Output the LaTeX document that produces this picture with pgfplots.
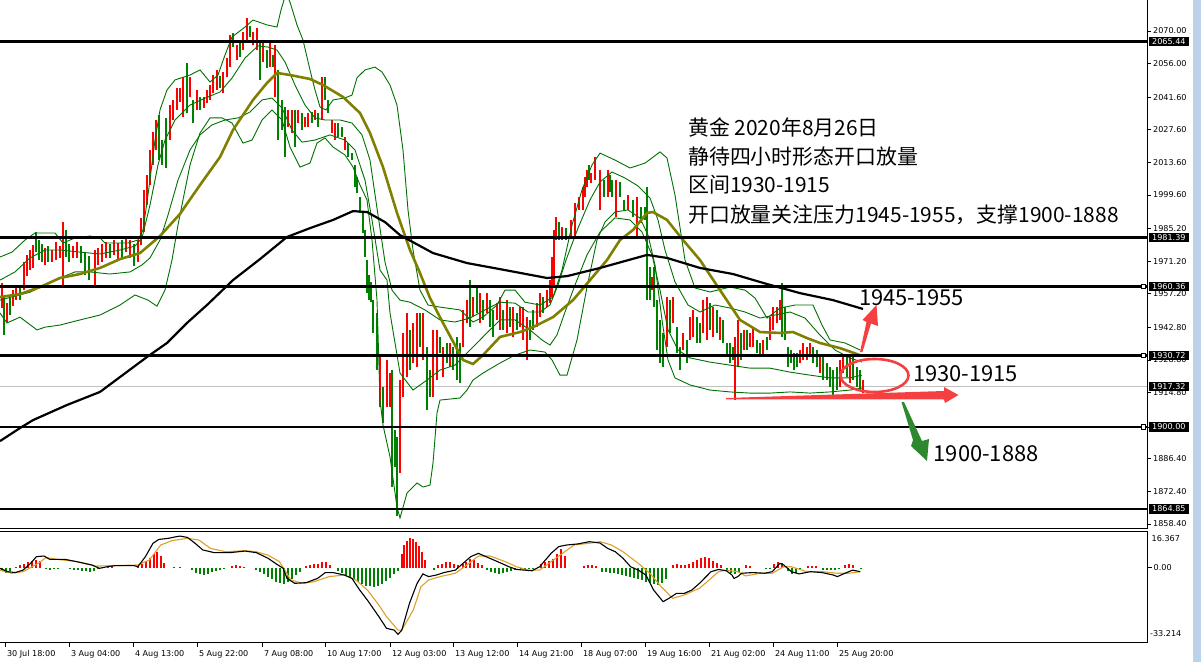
\documentclass[border=0pt]{standalone}
\usepackage{fontspec}
\setmainfont{DejaVu Sans}
\newfontfamily\cjk{Noto Sans CJK SC}
\usepackage{pgfplots}
\usepackage{pgfplotstable}
\pgfplotsset{compat=1.18}
\definecolor{barR}{RGB}{255,0,0}
\definecolor{barG}{RGB}{0,128,0}
\definecolor{bandG}{RGB}{0,112,0}
\definecolor{maO}{RGB}{128,128,0}
\definecolor{sigO}{RGB}{222,160,40}
\definecolor{annR}{RGB}{244,64,64}
\definecolor{annG}{RGB}{46,136,46}
\definecolor{lineGray}{RGB}{192,192,192}
\definecolor{stripB}{RGB}{188,210,234}
\newcommand{\tickfont}{\fontsize{8.1}{9}\selectfont}

% price bars: x (px), low, high
\pgfplotstableread[row sep=\\]{
x lo hi\\
2 1951.1 1961.8\\ 7 1945.1 1953.2\\ 13 1951.9 1958.8\\ 16 1954.5 1959.7\\
24 1958.8 1970.8\\ 27 1964.8 1973.9\\ 30 1967.4 1976.0\\ 33 1968.3 1978.2\\
45 1969.6 1976.9\\ 52 1970.8 1976.0\\ 56 1971.7 1979.4\\ 60 1972.6 1977.7\\
63 1961.0 1988.0\\ 73 1972.6 1977.7\\ 77 1972.6 1979.4\\ 95 1961.0 1976.0\\
98 1969.6 1976.9\\ 102 1970.8 1978.6\\ 106 1972.6 1979.4\\ 114 1973.9 1980.3\\
118 1971.7 1979.0\\ 126 1975.1 1981.2\\ 130 1972.6 1980.3\\ 138 1970.8 1980.3\\
141 1978.2 1989.8\\ 144 1983.7 2001.8\\ 147 1995.3 2008.2\\ 150 2003.9 2018.9\\
153 2012.5 2026.6\\ 156 2018.9 2031.8\\ 170 2023.2 2038.2\\ 173 2031.8 2040.4\\
177 2036.1 2045.5\\ 180 2039.5 2045.5\\ 183 2033.1 2050.3\\ 190 2041.7 2050.3\\
197 2036.1 2044.7\\ 204 2037.0 2041.7\\ 207 2039.1 2044.7\\ 210 2040.4 2046.8\\
213 2043.4 2051.1\\ 217 2044.7 2053.3\\ 223 2043.4 2052.4\\ 227 2050.3 2058.4\\
230 2054.5 2068.3\\ 237 2057.5 2064.0\\ 243 2061.8 2069.6\\ 247 2065.2 2075.6\\
253 2064.0 2069.6\\ 257 2061.8 2071.3\\ 263 2056.7 2064.8\\ 270 2054.5 2064.8\\
275 2041.7 2064.0\\ 288 2028.8 2036.1\\ 292 2026.2 2036.1\\ 298 2030.5 2036.1\\
305 2028.8 2033.1\\ 308 2028.8 2034.8\\ 315 2031.8 2036.1\\ 322 2031.8 2050.3\\
332 2026.2 2031.8\\ 335 2023.2 2030.5\\ 345 2018.9 2024.5\\ 380 1908.6 1930.1\\
387 1908.6 1928.8\\ 390 1908.6 1923.2\\ 400 1880.3 1920.2\\ 403 1912.9 1940.4\\
407 1921.5 1949.0\\ 413 1927.5 1944.7\\ 417 1925.8 1949.0\\ 423 1928.8 1949.0\\
433 1912.9 1941.7\\ 437 1920.2 1941.7\\ 443 1921.5 1934.4\\ 450 1925.8 1936.1\\
463 1934.4 1950.3\\ 467 1944.7 1954.5\\ 473 1947.2 1955.8\\ 480 1944.7 1957.5\\
487 1949.0 1957.5\\ 497 1946.0 1953.2\\ 500 1941.7 1955.8\\ 507 1940.4 1954.5\\
513 1938.7 1951.5\\ 520 1942.9 1951.5\\ 523 1937.4 1951.5\\ 527 1928.8 1947.2\\
537 1942.9 1953.2\\ 540 1947.2 1957.5\\ 547 1951.5 1958.8\\ 550 1953.2 1963.1\\
552 1955.8 1973.0\\ 554 1960.1 1984.6\\ 556 1980.3 1990.2\\ 562 1980.3 1985.9\\
571 1981.6 1988.9\\ 575 1981.6 1996.2\\ 579 1993.2 1998.8\\ 583 1993.2 2003.0\\
585 1998.8 2007.3\\ 587 2003.0 2010.3\\ 591 2004.8 2009.0\\ 595 2006.0 2015.9\\
600 1993.2 2010.3\\ 608 1998.8 2010.3\\ 616 1990.2 2006.0\\ 628 1993.2 1999.6\\
637 1981.6 1998.8\\ 652 1958.8 1964.4\\ 667 1934.4 1955.8\\ 673 1944.7 1955.8\\
683 1933.1 1940.4\\ 690 1937.4 1947.2\\ 693 1938.7 1950.3\\ 703 1940.4 1954.5\\
707 1937.4 1955.8\\ 713 1938.7 1951.5\\ 720 1937.4 1947.2\\ 735 1911.6 1938.7\\
738 1925.8 1946.0\\ 744 1933.1 1941.7\\ 750 1934.4 1940.4\\ 753 1934.4 1942.9\\
763 1930.1 1937.4\\ 770 1937.4 1947.2\\ 773 1941.7 1951.5\\ 777 1944.7 1951.5\\
780 1946.0 1954.5\\ 800 1927.5 1933.1\\ 803 1928.8 1936.1\\ 807 1928.8 1934.4\\
810 1930.1 1936.1\\ 820 1923.2 1930.1\\ 840 1917.2 1928.8\\ 843 1923.2 1930.1\\
850 1918.9 1930.1\\ 863 1914.6 1920.2\\
}\redbars

\pgfplotstableread[row sep=\\]{
x lo hi\\
4 1939.6 1956.2\\ 10 1948.1 1955.4\\ 20 1954.5 1961.0\\ 36 1975.1 1983.7\\
39 1971.7 1980.3\\ 42 1970.8 1978.6\\ 48 1970.8 1977.7\\ 66 1973.0 1984.6\\
69 1970.8 1978.6\\ 81 1970.4 1977.7\\ 85 1965.3 1974.7\\ 89 1963.1 1973.4\\
110 1972.6 1978.6\\ 122 1972.6 1980.3\\ 134 1969.1 1978.6\\ 159 2014.6 2033.9\\
162 2012.5 2023.2\\ 166 2011.2 2032.7\\ 187 2034.8 2056.2\\ 193 2030.5 2040.4\\
200 2036.1 2041.7\\ 220 2045.5 2050.7\\ 233 2063.1 2069.1\\ 240 2058.8 2065.2\\
250 2067.4 2072.1\\ 260 2049.0 2064.8\\ 267 2054.1 2061.8\\ 273 2054.5 2059.7\\
278 2023.2 2053.3\\ 282 2027.5 2040.4\\ 285 2015.9 2037.4\\ 295 2020.2 2036.1\\
302 2027.5 2034.8\\ 312 2030.5 2035.2\\ 318 2028.8 2034.8\\ 325 2040.4 2050.3\\
328 2034.8 2040.4\\ 338 2024.5 2030.5\\ 342 2024.5 2028.8\\ 348 2015.9 2021.9\\
352 2014.6 2017.6\\ 355 2003.0 2012.5\\ 357 2000.5 2007.3\\ 360 1991.9 1998.8\\
363 1983.3 1991.9\\ 365 1973.0 1984.6\\ 367 1957.5 1971.7\\ 369 1954.5 1965.3\\
371 1953.6 1962.3\\ 373 1940.4 1954.5\\ 377 1924.5 1949.0\\ 383 1901.7 1917.2\\
392 1874.3 1924.5\\ 395 1882.9 1898.7\\ 397 1861.8 1895.7\\ 410 1924.5 1941.7\\
420 1934.4 1949.0\\ 427 1907.3 1934.4\\ 430 1912.9 1924.5\\ 440 1931.8 1938.7\\
447 1927.5 1936.1\\ 453 1924.5 1934.4\\ 457 1920.2 1938.7\\ 460 1918.9 1936.1\\
470 1942.9 1963.1\\ 477 1949.0 1960.1\\ 483 1946.0 1954.5\\ 490 1942.9 1954.5\\
493 1938.7 1950.3\\ 503 1941.7 1950.3\\ 510 1942.9 1951.5\\ 517 1941.7 1949.0\\
530 1937.4 1946.0\\ 533 1941.7 1950.3\\ 543 1949.0 1955.8\\ 559 1980.3 1988.0\\
566 1980.3 1985.4\\ 589 2006.0 2012.5\\ 604 1998.8 2006.0\\ 610 2000.9 2008.2\\
612 1998.8 2006.0\\ 620 1998.8 2005.2\\ 624 1993.2 1997.5\\ 633 1990.2 1997.5\\
641 1987.6 1994.5\\ 645 1988.9 1994.5\\ 647 1954.5 2003.0\\ 650 1954.5 1968.7\\
654 1951.5 1968.7\\ 657 1933.1 1954.5\\ 660 1927.5 1946.0\\ 663 1925.8 1940.4\\
670 1940.4 1954.5\\ 677 1931.8 1942.9\\ 680 1924.5 1934.4\\ 687 1927.5 1937.4\\
697 1936.1 1947.2\\ 700 1936.1 1944.7\\ 710 1941.7 1953.2\\ 717 1940.4 1950.3\\
723 1936.1 1946.0\\ 727 1930.1 1936.1\\ 730 1927.5 1936.1\\ 733 1928.8 1934.4\\
741 1928.8 1940.4\\ 747 1933.1 1941.7\\ 757 1931.8 1937.4\\ 760 1930.1 1936.1\\
767 1933.1 1938.7\\ 782 1938.7 1961.8\\ 785 1937.4 1951.5\\ 788 1925.8 1934.4\\
791 1927.5 1933.1\\ 794 1924.5 1931.8\\ 797 1925.8 1931.8\\ 813 1927.5 1934.4\\
817 1925.8 1933.1\\ 823 1920.2 1930.1\\ 827 1920.2 1927.5\\ 830 1917.2 1925.8\\
833 1913.8 1924.5\\ 837 1915.9 1925.8\\ 847 1921.5 1930.1\\ 853 1920.2 1930.1\\
857 1917.2 1925.8\\ 860 1915.9 1924.5\\
}\greenbars

\pgfplotsset{mtpanel/.style={scale only axis, width=1147bp, xmin=0, xmax=1147,
  axis line style={draw=none}, tick align=outside, tick style={black, line width=0.8bp},
  ticklabel style={font=\tickfont}, yticklabel style={anchor=west, inner xsep=2bp},
  ytick pos=right, yticklabel pos=right}}

\begin{document}
\begin{tikzpicture}
\useasboundingbox (0,0) rectangle (1201bp,-662bp);
\fill[stripB] (1193bp,0) rectangle (1201bp,-662bp);

\begin{axis}[mtpanel, at={(0,0)}, anchor=north west, height=528bp,
  ymin=1856.7, ymax=2083.3, xtick=\empty, major tick length=4bp,
  ytick={2070.00,2056.00,2041.60,2027.60,2013.60,1999.60,1985.20,1971.20,1957.20,1942.80,1928.80,1914.80,1900.00,1886.40,1872.40,1858.40},
  yticklabels={2070.00,2056.00,2041.60,2027.60,2013.60,1999.60,1985.20,1971.20,1957.20,1942.80,1928.80,1914.80,1900.00,1886.40,1872.40,1858.40}]
  \addplot[lineGray, line width=0.8bp] coordinates {(0,1917.32) (1147,1917.32)};
  \addplot[draw=none, mark=none, error bars/.cd, y dir=plus, y explicit, error mark=none,
    error bar style={draw=barR, line width=1.7bp}]
    table[x=x, y=lo, y error expr=\thisrow{hi}-\thisrow{lo}] {\redbars};
  \addplot[draw=none, mark=none, error bars/.cd, y dir=plus, y explicit, error mark=none,
    error bar style={draw=barG, line width=1.7bp}]
    table[x=x, y=lo, y error expr=\thisrow{hi}-\thisrow{lo}] {\greenbars};
  % bollinger bands
  \addplot[bandG, line width=0.9bp] coordinates {(0,1973.0) (12,1975.1) (25,1980.3) (35,1983.3) (55,1983.3) (63,1979.0) (75,1981.2) (90,1982.0) (100,1981.2) (105,1979.0) (128,1979.0) (138,1980.3) (143,1984.6) (148,1999.6) (155,2023.2) (160,2036.1) (167,2044.7) (175,2049.0) (190,2051.1) (200,2053.3) (210,2048.1) (218,2051.1) (225,2059.7) (232,2067.4) (245,2071.7) (253,2074.7) (267,2072.6) (277,2071.7) (281,2079.0) (284,2083.3) (287,2085.4) (290,2082.4) (297,2072.6) (303,2066.1) (310,2053.3) (315,2044.7) (320,2037.4) (326,2036.1) (333,2040.4) (345,2041.3) (352,2042.5) (357,2049.9) (365,2053.3) (375,2054.5) (382,2052.4) (390,2046.8) (397,2038.2) (403,2018.9) (408,1993.2) (413,1976.0) (420,1958.8) (428,1952.4) (440,1951.5) (460,1950.3) (473,1945.1) (483,1947.2) (497,1952.4) (505,1958.8) (515,1958.8) (525,1953.6) (540,1952.4) (553,1955.8) (562,1967.4) (572,1986.7) (582,2001.8) (592,2012.5) (600,2017.6) (615,2014.6) (630,2011.2) (645,2013.3) (660,2018.1) (667,2015.5) (675,1999.6) (685,1971.7) (695,1959.7) (710,1958.0) (730,1960.1) (745,1958.8) (755,1955.4) (767,1946.8) (780,1951.1) (795,1952.4) (813,1952.4) (822,1943.8) (830,1937.4) (845,1936.1) (860,1933.1)};
  \addplot[bandG, line width=0.9bp] coordinates {(0,1963.1) (15,1966.6) (30,1972.6) (45,1976.0) (60,1976.0) (80,1975.1) (100,1974.3) (120,1976.0) (135,1977.7) (142,1981.2) (150,1995.3) (158,2012.5) (165,2023.2) (175,2031.8) (190,2038.2) (205,2041.2) (220,2043.8) (232,2049.8) (245,2058.4) (258,2063.6) (268,2063.1) (277,2061.8) (285,2056.7) (295,2046.8) (305,2038.2) (315,2032.7) (325,2031.8) (340,2031.8) (352,2030.5) (362,2025.4) (370,2014.6) (378,1991.0) (385,1970.8) (392,1958.8) (400,1954.5) (410,1953.6) (425,1950.3) (440,1946.0) (455,1945.1) (470,1946.8) (485,1950.3) (500,1953.6) (515,1953.2) (528,1949.4) (540,1949.4) (550,1952.4) (558,1961.0) (566,1971.7) (578,1985.4) (590,1997.5) (600,2005.2) (612,2009.5) (625,2006.9) (638,2003.5) (650,1998.3) (658,1988.9) (665,1976.0) (675,1962.3) (688,1952.4) (700,1949.4) (715,1952.4) (730,1951.1) (745,1949.4) (760,1946.8) (775,1948.1) (790,1949.4) (805,1946.8) (820,1939.5) (835,1933.1) (850,1929.7) (862,1927.9)};
  \addplot[bandG, line width=0.9bp] coordinates {(0,1954.5) (15,1956.2) (30,1957.9) (45,1961.0) (60,1964.0) (75,1966.6) (90,1966.6) (110,1965.7) (130,1966.6) (142,1969.6) (150,1972.6) (160,1980.3) (168,1991.0) (178,2006.0) (190,2018.9) (200,2025.4) (212,2029.7) (225,2031.8) (238,2032.7) (250,2035.2) (262,2040.4) (272,2041.2) (282,2036.9) (292,2027.5) (302,2022.3) (315,2023.2) (330,2025.4) (345,2023.2) (355,2018.9) (365,2006.0) (372,1988.9) (380,1967.4) (387,1963.1) (390,1949.0) (400,1923.2) (413,1915.9) (427,1920.2) (440,1924.5) (455,1926.6) (470,1933.1) (485,1939.6) (500,1946.0) (515,1946.0) (530,1941.7) (542,1937.4) (550,1935.2) (557,1939.6) (565,1949.4) (575,1961.0) (587,1973.9) (600,1983.7) (615,1989.8) (630,1988.9) (642,1983.7) (652,1973.9) (660,1958.8) (668,1941.7) (678,1933.1) (690,1929.7) (710,1927.9) (730,1926.6) (750,1925.3) (770,1925.3) (790,1923.6) (810,1922.3) (830,1921.1) (850,1921.1) (862,1922.3)};
  \addplot[bandG, line width=0.9bp] coordinates {(0,1949.0) (7,1944.7) (20,1947.2) (37,1941.7) (45,1942.9) (60,1943.8) (80,1946.0) (100,1948.1) (120,1952.4) (135,1956.7) (148,1954.5) (157,1951.9) (165,1958.8) (172,1971.7) (178,1986.7) (183,1997.5) (190,2012.5) (200,2026.2) (210,2032.7) (222,2032.7) (232,2030.5) (243,2021.9) (252,2023.2) (262,2031.8) (272,2036.1) (282,2031.8) (290,2020.2) (300,2011.6) (310,2013.3) (317,2021.9) (325,2024.1) (333,2020.2) (345,2016.8) (353,2011.6) (360,2003.9) (367,1997.5) (372,1980.3) (377,1954.5) (380,1911.6) (383,1900.9) (390,1887.2) (397,1865.7) (400,1861.0) (407,1871.7) (417,1876.0) (423,1874.3) (430,1875.1) (433,1884.6) (437,1906.0) (440,1911.6) (460,1912.5) (467,1915.9) (473,1920.2) (483,1923.2) (500,1927.5) (515,1930.9) (530,1933.1) (545,1932.2) (552,1928.8) (560,1922.3) (567,1922.3) (577,1937.4) (587,1960.1) (597,1980.3) (605,1988.0) (615,1992.3) (628,1993.2) (640,1989.7) (648,1982.4) (655,1969.6) (662,1946.0) (668,1928.8) (675,1921.1) (690,1918.1) (710,1915.9) (730,1915.1) (750,1914.6) (770,1914.6) (790,1915.1) (810,1914.6) (830,1915.1) (850,1915.9) (862,1916.8)};
  % moving averages
  \addplot[maO, line width=2.6bp] coordinates {(0,1955.8) (20,1957.1) (40,1960.1) (60,1964.0) (80,1965.7) (100,1968.3) (120,1972.1) (140,1974.7) (160,1982.0) (180,1991.5) (200,2003.9) (220,2015.9) (233,2027.5) (253,2040.4) (267,2047.7) (277,2052.0) (290,2051.1) (310,2049.4) (323,2046.8) (343,2041.7) (360,2034.8) (370,2026.2) (383,2011.6) (397,1991.9) (410,1976.0) (420,1966.1) (430,1955.4) (443,1944.7) (463,1928.8) (473,1927.1) (483,1930.9) (500,1938.7) (520,1940.8) (533,1942.9) (553,1947.2) (573,1954.5) (590,1963.1) (607,1971.7) (620,1980.3) (633,1984.6) (647,1991.9) (653,1992.3) (667,1988.9) (683,1980.3) (700,1971.7) (720,1958.8) (740,1946.0) (760,1940.8) (780,1940.4) (793,1940.8) (807,1938.2) (820,1936.1) (840,1933.9) (860,1930.9)};
  \addplot[black, line width=2.2bp] coordinates {(0,1894.0) (20,1899.6) (33,1903.0) (67,1909.5) (100,1915.1) (147,1930.1) (167,1936.1) (187,1944.7) (207,1952.4) (233,1963.1) (260,1972.1) (287,1981.6) (310,1985.4) (333,1988.9) (353,1992.7) (367,1992.3) (385,1988.0) (400,1982.4) (433,1974.7) (467,1970.4) (500,1967.8) (547,1964.0) (567,1964.8) (600,1968.3) (647,1973.9) (667,1972.6) (700,1968.3) (733,1965.7) (767,1961.4) (800,1957.5) (833,1954.5) (863,1950.7)};
  % levels
  \addplot[black, line width=2.4bp] coordinates {(0,2065.44) (1147,2065.44)};
  \addplot[black, line width=2.4bp] coordinates {(0,1981.39) (1147,1981.39)};
  \addplot[black, line width=2.4bp] coordinates {(0,1960.36) (1147,1960.36)};
  \addplot[black, line width=2.4bp] coordinates {(0,1930.72) (1147,1930.72)};
  \addplot[black, line width=2.4bp] coordinates {(0,1900.00) (1147,1900.00)};
  \addplot[black, line width=2.4bp] coordinates {(0,1864.85) (1147,1864.85)};
\end{axis}

\begin{axis}[mtpanel, at={(0,-531bp)}, anchor=north west, height=111bp,
  ymin=-33.214, ymax=16.367, major tick length=4.5bp,
  xtick={5,69,133,197,262,325,390,453,517,581,645,709,773,837},
  xticklabels={30 Jul 18:00,3 Aug 04:00,4 Aug 13:00,5 Aug 22:00,7 Aug 08:00,10 Aug 17:00,12 Aug 03:00,13 Aug 12:00,14 Aug 21:00,18 Aug 07:00,19 Aug 16:00,21 Aug 02:00,24 Aug 11:00,25 Aug 20:00},
  xtick pos=bottom, xticklabel style={anchor=north west, xshift=-1.5bp},
  ytick={0}, yticklabels={0.00}]
  \addplot[ycomb, barR, line width=1.5bp, mark=none] coordinates {(16,0.5) (20,1.0) (24,1.8) (28,2.5) (32,3.0) (36,3.4) (40,3.0) (104,0.5) (108,0.7) (112,0.6) (138,0.8) (142,1.8) (146,3.0) (150,4.5) (154,6.0) (157,7.1) (161,5.0) (164,2.0) (174,0.5) (180,0.4) (232,0.8) (236,1.2) (240,0.9) (244,0.5) (306,0.8) (310,1.2) (314,1.5) (318,1.8) (322,2.6) (326,2.4) (330,1.2) (402,6.0) (404,10.0) (407,12.0) (410,13.1) (413,13.0) (416,11.5) (419,9.5) (422,7.0) (425,3.5) (438,1.0) (442,1.8) (446,2.7) (450,2.5) (454,1.8) (458,1.0) (463,1.5) (466,2.5) (470,4.0) (474,3.5) (478,2.2) (482,1.0) (541,1.5) (545,2.5) (549,3.0) (553,4.0) (557,6.0) (561,8.5) (565,5.0) (584,0.8) (588,1.0) (592,1.0) (596,0.8) (673,1.0) (677,1.8) (681,1.3) (685,1.0) (689,1.5) (693,2.5) (697,3.5) (701,4.5) (705,4.9) (709,4.2) (713,3.0) (717,2.0) (721,1.0) (746,1.0) (750,0.8) (774,1.5) (778,2.7) (782,2.0) (808,0.6) (812,0.8) (816,0.6) (845,1.2) (849,1.6) (853,1.2)};
  \addplot[ycomb, barG, line width=1.5bp, mark=none] coordinates {(2,-1.5) (6,-2.5) (10,-1.5) (46,-0.5) (50,-1.0) (54,-0.8) (58,-0.6) (70,-0.6) (74,-1.0) (78,-1.2) (82,-1.5) (86,-1.6) (90,-1.8) (94,-1.5) (98,-0.8) (192,-1.0) (196,-2.2) (200,-2.9) (204,-3.1) (208,-2.8) (212,-2.0) (216,-1.5) (220,-0.9) (224,-0.6) (256,-1.0) (260,-2.0) (264,-3.0) (268,-4.0) (272,-5.2) (276,-6.2) (280,-6.8) (284,-7.1) (288,-6.5) (292,-5.0) (296,-3.5) (300,-2.0) (338,-1.5) (342,-2.5) (346,-3.5) (350,-4.5) (354,-5.5) (358,-6.5) (362,-7.5) (366,-8.0) (370,-8.4) (374,-8.5) (378,-8.3) (382,-7.5) (386,-6.0) (390,-4.5) (394,-3.0) (398,-1.5) (434,-1.0) (487,-1.0) (491,-2.0) (495,-2.5) (499,-2.7) (503,-2.5) (507,-2.0) (511,-1.5) (515,-1.0) (521,-0.8) (525,-1.0) (529,-0.8) (533,-0.6) (602,-1.8) (606,-2.0) (610,-2.3) (614,-2.6) (618,-3.0) (622,-3.3) (626,-3.6) (630,-4.0) (634,-4.5) (638,-5.0) (642,-5.5) (646,-6.2) (650,-6.8) (654,-7.5) (658,-7.7) (662,-7.0) (666,-5.0) (727,-1.5) (731,-2.5) (735,-2.7) (739,-2.0) (766,-0.4) (770,-0.4) (788,-1.5) (792,-2.7) (796,-2.2) (800,-1.0) (823,-1.0) (827,-1.2) (831,-1.0) (835,-1.0) (839,-0.8) (861,-0.8)};
  \addplot[sigO, line width=1.1bp] coordinates {(0,-1.1) (11.5,-2.5) (23,-1.8) (38.3,1.9) (45.9,4.5) (57.4,3.7) (76.5,2.7) (95.7,0.7) (114.8,0.9) (137.8,1.2) (149.3,3.4) (160.7,10.1) (172.2,12.1) (187.5,13.1) (199,12.3) (210.5,8.6) (225.8,7.1) (245,7.6) (256.4,7.1) (267.9,5.6) (279.4,2.7) (290.9,-5.5) (302.3,-7.0) (313.8,-6.3) (329.1,-4.0) (344.4,-3.3) (355.9,-5.5) (367.4,-10.0) (378.9,-16.7) (386.5,-21.9) (398,-27.9) (401.8,-27.9) (413.3,-18.9) (421,-8.5) (428.6,-5.5) (440.1,-4.0) (455.4,-2.5) (466.9,1.2) (478.4,5.2) (489.9,5.2) (505.2,2.7) (516.6,0.4) (528.1,-1.1) (539.6,-1.1) (551.1,2.7) (562.6,6.4) (574,10.1) (589.4,10.9) (600,11.6) (611.5,10.1) (623,7.1) (638.3,1.9) (649.8,-2.5) (661.2,-8.5) (672.7,-13.7) (684.2,-12.2) (699.5,-9.2) (711,-4.8) (718.6,-1.8) (726.3,-1.1) (737.8,-1.8) (745.4,-3.7) (760.7,-2.5) (772.2,-2.5) (783.7,0.4) (791.4,0.4) (806.7,-1.8) (822,-1.8) (837.3,-2.5) (848.8,-2.5) (860.2,-1.8)};
  \addplot[black, line width=1.1bp] coordinates {(0,-0.3) (7.7,-1.8) (15.3,-2.2) (23,-1.1) (30.6,1.9) (36.4,4.9) (44,5.2) (49.8,3.7) (65,3.7) (76.5,2.7) (91.8,1.2) (99.5,-0.3) (107,0.4) (114.8,0.9) (134,0.9) (137.8,0.4) (145.4,4.9) (153,10.9) (158.8,12.6) (168.4,13.1) (176,13.8) (180,14.1) (187.5,13.5) (195,10.9) (202.8,7.9) (214.3,6.7) (229.6,6.7) (245,7.4) (256.4,6.7) (268,4.2) (275.5,1.9) (283.2,-0.3) (287,-4.8) (294.7,-7.0) (306.2,-6.7) (317.6,-4.8) (325.3,-2.2) (333,-2.2) (344.4,-3.3) (352,-4.8) (359.7,-10.0) (367.4,-14.5) (378.9,-21.9) (386.5,-27.1) (394.2,-27.9) (398,-29.8) (401.8,-27.9) (409.5,-15.9) (417.1,-7.0) (422.9,-2.8) (428.6,-4.0) (436.3,-3.3) (443.9,-2.2) (455.4,-1.1) (463,1.9) (470.7,4.9) (478.4,6.4) (486,4.9) (497.5,2.7) (509,0.4) (516.6,-0.8) (524.3,-1.1) (532,-1.4) (539.6,0.4) (551.1,6.4) (558.7,9.4) (566.4,10.1) (577.9,10.6) (589.4,11.6) (600,11.0) (607.7,8.6) (615.3,7.1) (623,4.2) (630.6,0.4) (638.3,-1.1) (645.9,-3.3) (653.6,-10.0) (663.1,-15.2) (668.9,-13.7) (676.5,-11.5) (684.2,-11.5) (691.8,-10.0) (699.5,-7.0) (711,-1.8) (718.6,-0.8) (726.3,-1.4) (732,-3.3) (734,-4.8) (737.8,-4.0) (741.6,-2.5) (753.1,-2.2) (764.6,-2.5) (772.2,-1.8) (779.9,1.9) (783.7,1.2) (791.4,-1.8) (799,-2.8) (810.5,-1.8) (822,-2.2) (833.4,-3.3) (837.3,-4.0) (845,-2.5) (852.6,-1.1) (860.2,-1.8)};
\end{axis}

\begin{scope}[x=1bp, y=-1bp]
  % panel frames
  \draw[black, line width=1bp] (0,528) -- (1147,528) -- (1147,0);
  \draw[black, line width=1bp] (0,531) -- (1147,531) -- (1147,642) -- (0,642);
  % level markers and price boxes
  \foreach \yy in {286.4,355.5,427.1}
    \node[draw=black, fill=white, line width=0.9bp, minimum size=4.5bp, inner sep=0] at (1143.5,\yy) {};
  \foreach \yy/\lab in {41.6/2065.44, 237.4/1981.39, 286.4/1960.36, 355.5/1930.72, 386.7/1917.32, 427.1/1900.00, 509.0/1864.85}
    \node[fill=black, text=white, font=\tickfont, anchor=west, inner xsep=3.5bp, inner ysep=1.3bp, text height=6.2bp, text depth=0.6bp] at (1148.5,\yy) {\lab};
  \node[font=\tickfont, anchor=west, inner sep=0] at (1151.5,538.5) {16.367};
  \node[font=\tickfont, anchor=west, inner sep=0] at (1150,634) {-33.214};
  % annotation text
  \node[font=\cjk\fontsize{21}{21}\selectfont, anchor=west, inner sep=0] at (688,127) {黄金 2020年8月26日};
  \node[font=\cjk\fontsize{21}{21}\selectfont, anchor=west, inner sep=0] at (688,156.5) {静待四小时形态开口放量};
  \node[font=\cjk\fontsize{21}{21}\selectfont, anchor=west, inner sep=0] at (688,185) {区间1930-1915};
  \node[font=\cjk\fontsize{21}{21}\selectfont, anchor=west, inner sep=0] at (688,214.5) {开口放量关注压力1945-1955，支撑1900-1888};
  \node[font=\cjk\fontsize{22}{22}\selectfont, anchor=west, inner sep=0] at (859,298) {1945-1955};
  \node[font=\cjk\fontsize{22}{22}\selectfont, anchor=west, inner sep=0] at (913,373.5) {1930-1915};
  \node[font=\cjk\fontsize{22}{22}\selectfont, anchor=west, inner sep=0] at (933.5,454) {1900-1888};
  % annotation arrows and ellipse
  \fill[annR] (860,352) -- (866.5,322) -- (862.5,320) -- (876.5,305) -- (878,326) -- (871,323.5) -- (862.5,352) -- cycle;
  \fill[annR] (726,398) -- (944,391) -- (944,387) -- (958.5,395) -- (945,403) -- (944,399.5) -- (726,399.3) -- cycle;
  \draw[annR, line width=2.6bp] (874.5,375.5) ellipse [x radius=34, y radius=16.5];
  \fill[annG] (901.5,402) -- (913,440) -- (911,446) -- (927,461) -- (929,439) -- (922,441) -- (904,402) -- cycle;
\end{scope}
\end{tikzpicture}
\end{document}
